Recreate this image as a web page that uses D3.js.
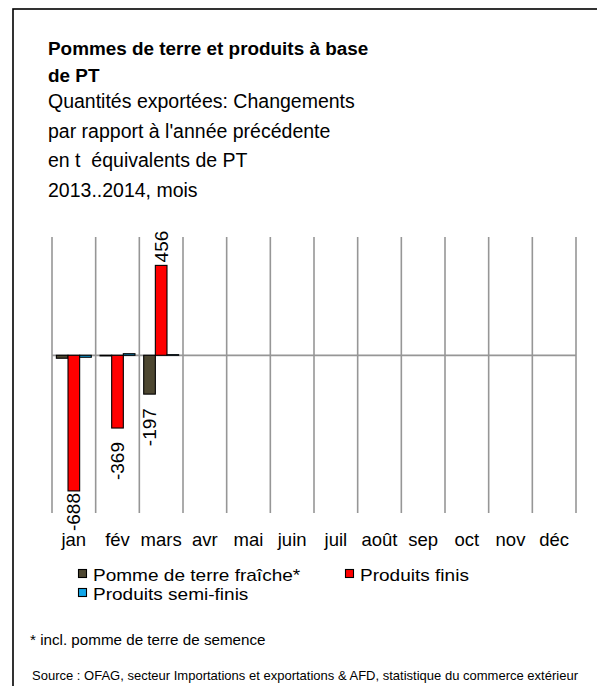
<!DOCTYPE html>
<html><head><meta charset="utf-8">
<script src="https://cdn.jsdelivr.net/npm/d3@7/dist/d3.min.js"></script>
<style>body{margin:0;background:#fff;}svg{display:block;font-family:"Liberation Sans",Arial,sans-serif;}text{white-space:pre;}</style>
</head><body>
<script>
const months = ["jan","fév","mars","avr","mai","juin","juil","août","sep","oct","nov","déc"];
const seriesNames = ["Pomme de terre fraîche*","Produits finis","Produits semi-finis"];
const seriesColors = ["#4d4731","#ff0000","#12a6e8"];
const fraiche = [-15,-3,-197,null,null,null,null,null,null,null,null,null];
const finis = [-688,-369,456,null,null,null,null,null,null,null,null,null];
const semiFinis = [-10,8,3,null,null,null,null,null,null,null,null,null];
const labelled = [[false,false,true],[true,true,true],[false,false,false]];
const yDomain = [-800, 600];
const titleLines = ["Pommes de terre et produits à base","de PT"];
const subtitleLines = ["Quantités exportées: Changements","par rapport à l'année précédente","en t  équivalents de PT","2013..2014, mois"];
const footnote = "* incl. pomme de terre de semence";
const source = "Source : OFAG, secteur Importations et exportations & AFD, statistique du commerce extérieur";

const W = 597, H = 686;
const svg = d3.select("body").append("svg").attr("width",W).attr("height",H);
svg.append("rect").attr("x",13).attr("y",9).attr("width",W+20).attr("height",H+20)
  .attr("fill","#fff").attr("stroke","#000").attr("stroke-width",1.6);

svg.selectAll("text.title").data(titleLines).join("text")
  .attr("x",48).attr("y",(d,i)=>55+i*27).attr("font-size",18.9).attr("font-weight","bold").text(d=>d);
svg.selectAll("text.sub").data(subtitleLines).join("text")
  .attr("x",48).attr("y",(d,i)=>108+i*29.5).attr("font-size",19.5).text(d=>d);

const plot = {left:52, right:576, top:237, bottom:513};
const x = d3.scaleBand().domain(months).range([plot.left, plot.right]);
const y = d3.scaleLinear().domain(yDomain).range([plot.bottom, plot.top]);
const pad = x.bandwidth()*0.1;
const xs = d3.scaleBand().domain(d3.range(3)).range([pad, x.bandwidth()-pad]);

const g = svg.append("g");
const edges = months.map(m=>x(m)).concat([plot.right]);
g.selectAll("line.grid").data(edges).join("line")
  .attr("x1",d=>d).attr("x2",d=>d).attr("y1",plot.top).attr("y2",plot.bottom)
  .attr("stroke","#969696").attr("stroke-width",1.6);
g.append("line").attr("x1",plot.left).attr("x2",plot.right).attr("y1",y(0)).attr("y2",y(0))
  .attr("stroke","#969696").attr("stroke-width",1.8);

const series = [fraiche, finis, semiFinis];
series.forEach((vals,si)=>{
  const data = months.map((m,i)=>({m,v:vals[i],i})).filter(d=>d.v!==null);
  g.selectAll("rect.s"+si).data(data).join("rect")
    .attr("x",d=>x(d.m)+xs(si)).attr("width",xs.bandwidth())
    .attr("y",d=>y(Math.max(0,d.v))).attr("height",d=>Math.abs(y(d.v)-y(0)))
    .attr("fill",seriesColors[si]).attr("stroke","#000").attr("stroke-width",1.1);
  g.selectAll("text.l"+si).data(data.filter(d=>labelled[si][d.i])).join("text")
    .attr("transform",d=>{
      const cx = x(d.m)+xs(si)+xs.bandwidth()/2+6.5;
      const yy = d.v>=0 ? y(d.v)-3 : Math.min(y(d.v)+14, plot.bottom-20);
      return `translate(${cx},${yy}) rotate(-90)`;
    })
    .attr("text-anchor",d=>d.v>=0?"start":"end")
    .attr("font-size",19).text(d=>d.v);
});

svg.selectAll("text.month").data(months).join("text")
  .attr("x",d=>x(d)+x.bandwidth()/2).attr("y",546).attr("text-anchor","middle")
  .attr("font-size",18.5).text(d=>d);

const legendPos = [[78,581],[345,581],[78,600]];
seriesNames.forEach((n,i)=>{
  const [lx,ly]=legendPos[i];
  svg.append("rect").attr("x",lx+0.5).attr("y",ly-11.5).attr("width",8).attr("height",8)
    .attr("fill",seriesColors[i]).attr("stroke","#000").attr("stroke-width",1.1);
  svg.append("text").attr("transform",`translate(${lx+15},${ly}) scale(1.12,1)`)
    .attr("font-size",17).text(n);
});

svg.append("text").attr("x",30).attr("y",645).attr("font-size",15.2).text(footnote);
svg.append("text").attr("x",32).attr("y",680).attr("font-size",12.2)
  .attr("textLength",546).attr("lengthAdjust","spacingAndGlyphs").text(source);
</script>
</body></html>
